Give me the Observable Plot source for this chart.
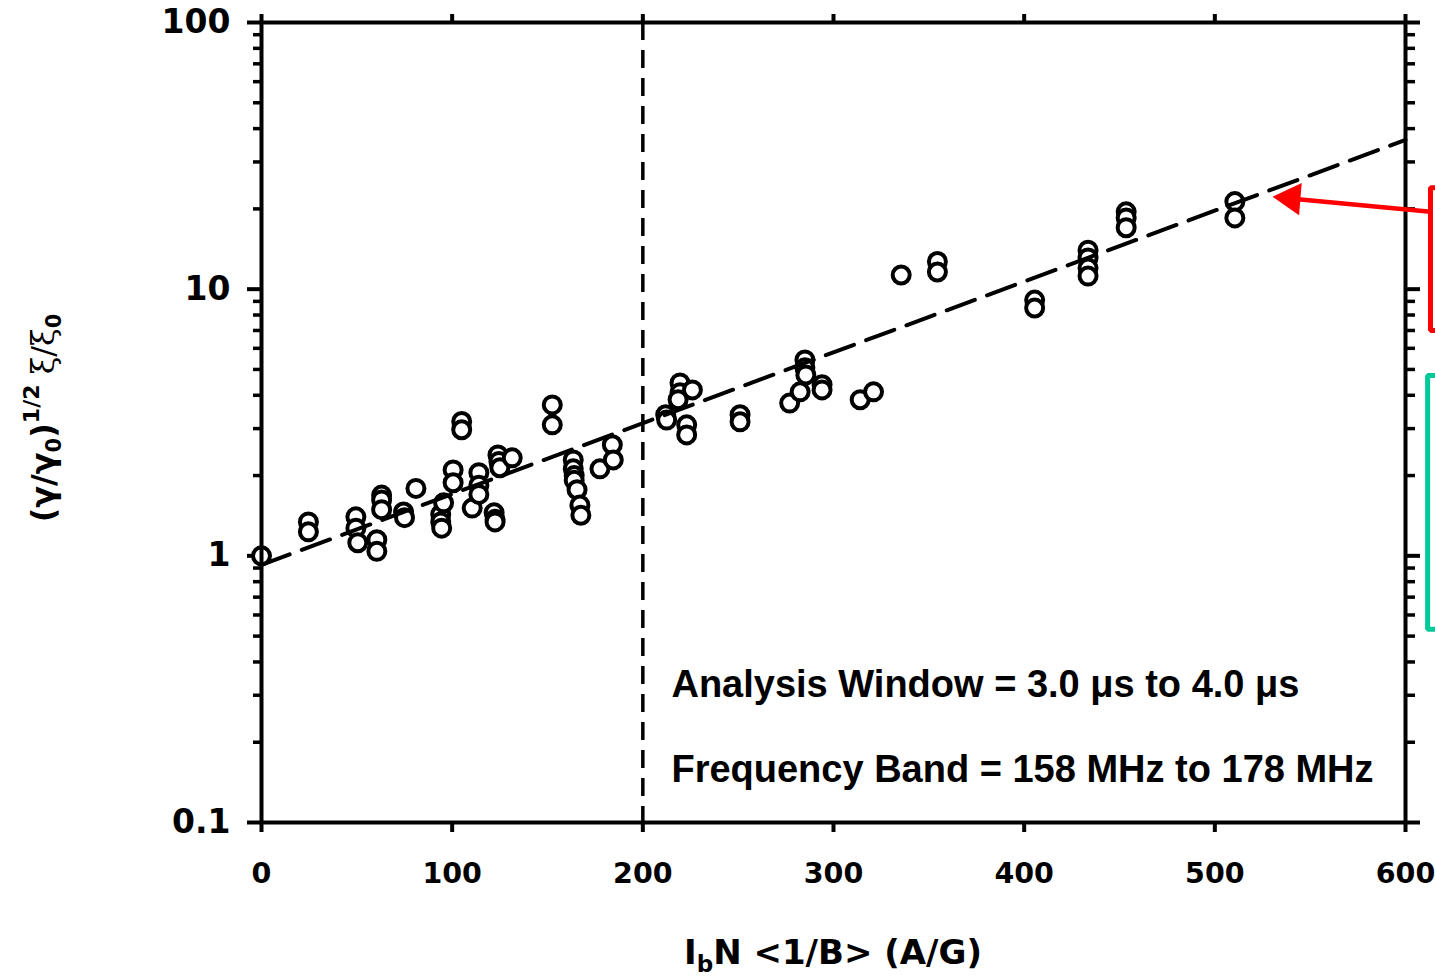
<!DOCTYPE html>
<html>
<head>
<meta charset="utf-8">
<script src="https://cdn.jsdelivr.net/npm/d3@7"></script>
<script src="https://cdn.jsdelivr.net/npm/@observablehq/plot@0.6"></script>
<style>
  html, body { margin: 0; padding: 0; background: #fff; }
  #chart svg { display: block; }
</style>
</head>
<body>
<div id="chart"></div>
<script>
// ---- data ----
const pointX = [0,
  24.6, 24.6,
  49.5, 49.5, 50.5,
  60.5, 60.5,
  63, 63, 63,
  74.5, 75,
  81,
  94, 94, 94.5,
  95.5,
  100.5, 100.5,
  105, 105,
  110.5,
  114, 114, 114,
  122, 122.5, 122.5,
  124, 124.5, 125,
  131.5,
  152.5, 152.5,
  163.5, 163.5, 164, 164,
  165.5, 167, 167.5,
  177.5,
  184, 184.5,
  212, 212.5,
  219.5, 219.5, 218.5,
  223, 223,
  226,
  251, 251,
  277,
  282.5,
  285, 285, 285.5,
  294, 294,
  314,
  321,
  335.5,
  354.5, 354.5,
  405.5, 405.5,
  433.5, 433.5, 433.5, 433.5,
  453.5, 453.5, 453.5,
  510.5, 510.5];
const pointY = [1.0,
  1.34, 1.23,
  1.40, 1.27, 1.12,
  1.15, 1.04,
  1.69, 1.62, 1.49,
  1.46, 1.39,
  1.79,
  1.43, 1.34, 1.27,
  1.58,
  2.10, 1.88,
  3.19, 2.97,
  1.51,
  2.05, 1.84, 1.70,
  1.45, 1.37, 1.34,
  2.39, 2.26, 2.14,
  2.33,
  3.68, 3.10,
  2.29, 2.12, 2.00, 1.92,
  1.77, 1.55, 1.42,
  2.12,
  2.61, 2.29,
  3.38, 3.23,
  4.45, 4.09, 3.85,
  3.10, 2.84,
  4.19,
  3.38, 3.18,
  3.74,
  4.12,
  5.43, 5.07, 4.77,
  4.38, 4.19,
  3.85,
  4.12,
  11.3,
  12.7, 11.6,
  9.1, 8.5,
  14.0, 13.1, 12.0, 11.2,
  19.5, 18.5, 17.0,
  21.3, 18.5];

// fitted trend line (end points)
const fitX = [0, 600];
const fitY = [0.925, 36.3];

// vertical reference line
const refX = [200];

// axis ticks
const xTicks = [0, 100, 200, 300, 400, 500, 600];
const yMajor = [0.1, 1, 10, 100];
const yMinor = [0.2,0.3,0.4,0.5,0.6,0.7,0.8,0.9, 2,3,4,5,6,7,8,9, 20,30,40,50,60,70,80,90];
const yLabels = {0.1: "0.1", 1: "1", 10: "10", 100: "100"};

// annotation texts
const notes = ["Analysis Window = 3.0 \u03bcs to 4.0 \u03bcs", "Frequency Band = 158 MHz to 178 MHz"];
const noteX = [215.0, 215.0];
const noteY = [0.296, 0.142];

// annotation shapes (red / teal brackets, red arrow)
const redBracketX = [625, 613.1, 613.1, 625];
const redBracketY = [24.0, 24.0, 7.0, 7.0];
const tealBracketX = [625, 611.6, 611.6, 625];
const tealBracketY = [4.75, 4.75, 0.53, 0.53];
const arrowFrom = {x: 613.1, y: 19.5};
const arrowTo = {x: 542.3, y: 21.8};
const arrowHead = {x: 540.0, y: 21.9};

const points = pointX.map((x, i) => ({x, y: pointY[i]}));
const fit = fitX.map((x, i) => ({x, y: fitY[i]}));

const FONT = "DejaVu Sans";

const chart = Plot.plot({
  width: 1435,
  height: 976,
  marginLeft: 261,
  marginRight: 30,
  marginTop: 22,
  marginBottom: 154,
  style: {fontFamily: FONT, background: "#fff", color: "#000"},
  x: {domain: [0, 600]},
  y: {type: "log", domain: [0.1, 100]},
  marks: [
    Plot.axisY({anchor: "left", ticks: yMajor, tickSize: 14, tickPadding: 17, strokeWidth: 4,
      fontSize: 33, fontWeight: "bold", tickFormat: d => yLabels[d], label: null}),
    Plot.axisY({anchor: "left", ticks: yMinor, tickSize: 8, strokeWidth: 3.5, text: null, label: null}),
    Plot.axisY({anchor: "right", ticks: yMajor, tickSize: 14, strokeWidth: 4, text: null, label: null}),
    Plot.axisY({anchor: "right", ticks: yMinor, tickSize: 9, strokeWidth: 3.5, text: null, label: null}),
    Plot.axisX({anchor: "bottom", ticks: xTicks, tickSize: 10, tickPadding: 30, strokeWidth: 4,
      fontSize: 28.5, fontWeight: "bold", tickFormat: d => String(d), label: null}),
    Plot.axisX({anchor: "top", ticks: xTicks, tickSize: 9, strokeWidth: 4, text: null, label: null}),
    Plot.ruleX(refX, {stroke: "#000", strokeWidth: 3.5, strokeDasharray: "18,10"}),
    Plot.dot(points, {x: "x", y: "y", r: 8.5, fill: "#fff", stroke: "#000", strokeWidth: 4}),
    Plot.line(fit, {x: "x", y: "y", stroke: "#000", strokeWidth: 4, strokeDasharray: "30,13"}),
    Plot.frame({stroke: "#000", strokeWidth: 4}),
    Plot.text(notes, {x: (d, i) => noteX[i], y: (d, i) => noteY[i], text: d => d,
      textAnchor: "start", lineAnchor: "bottom", fontSize: 38, fontWeight: "bold",
      fontFamily: "Liberation Sans", fill: "#000"}),
    Plot.line(redBracketX.map((x, i) => ({x, y: redBracketY[i]})), {x: "x", y: "y", stroke: "#ff0000", strokeWidth: 5, strokeLinejoin: "miter"}),
    Plot.line(tealBracketX.map((x, i) => ({x, y: tealBracketY[i]})), {x: "x", y: "y", stroke: "#00c99a", strokeWidth: 5, strokeLinejoin: "miter"}),
    Plot.link([0], {x1: () => arrowFrom.x, y1: () => arrowFrom.y, x2: () => arrowTo.x, y2: () => arrowTo.y,
      stroke: "#ff0000", strokeWidth: 4.5}),
    Plot.dot([0], {x: () => arrowHead.x, y: () => arrowHead.y, symbol: "triangle", r: 12, rotate: -85.3,
      fill: "#ff0000", stroke: "none"})
  ]
});

// axis titles with sub/superscripts
const svg = d3.select(chart);
const xt = svg.append("text")
  .attr("x", 833).attr("y", 964)
  .attr("text-anchor", "middle")
  .attr("font-family", FONT).attr("font-weight", "bold").attr("font-size", 34).attr("fill", "#000");
xt.append("tspan").text("I");
xt.append("tspan").attr("font-size", 23).attr("dy", 8).text("b");
xt.append("tspan").attr("dy", -8).text("N <1/B> (A/G)");

const yt = svg.append("text")
  .attr("transform", "translate(54,418) rotate(-90)")
  .attr("text-anchor", "middle")
  .attr("font-family", FONT).attr("font-weight", "bold").attr("font-size", 32).attr("fill", "#000");
yt.append("tspan").text("(\u03b3/\u03b3");
yt.append("tspan").attr("font-size", 21).attr("dy", 7).text("0");
yt.append("tspan").attr("dy", -7).text(")");
yt.append("tspan").attr("font-size", 22).attr("dy", -15).text("1/2");
yt.append("tspan").attr("dy", 15).attr("font-weight", "normal").attr("font-family", "DejaVu Serif").text(" \u03be/\u03be");
yt.append("tspan").attr("font-size", 21).attr("dy", 7).text("0");

document.getElementById("chart").appendChild(chart);
</script>
</body>
</html>
